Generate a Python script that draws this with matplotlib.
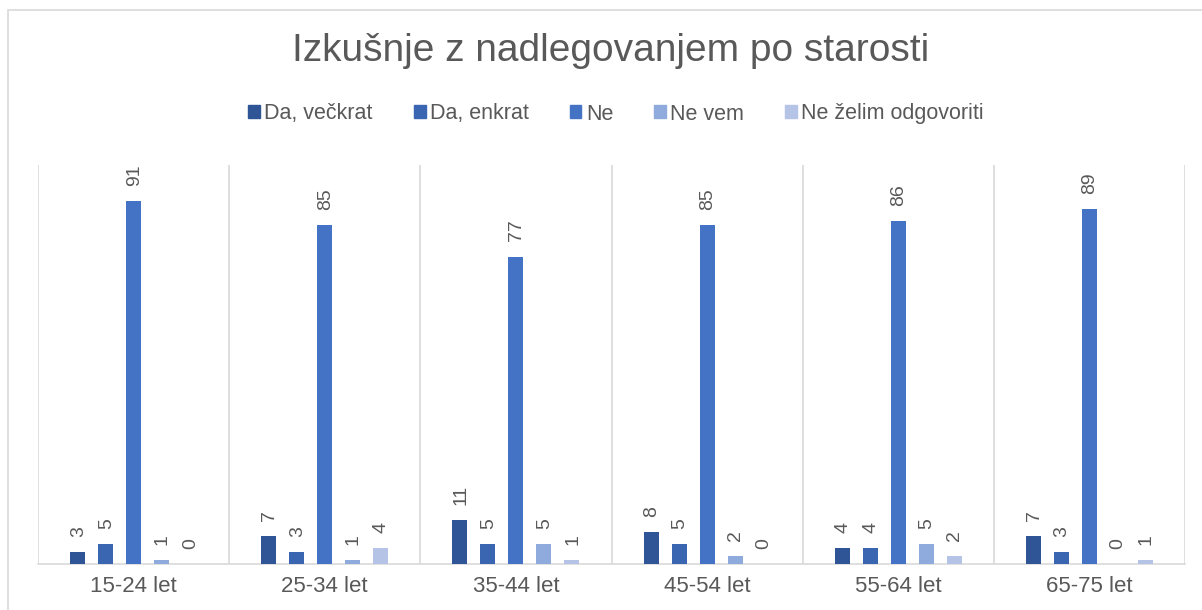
import matplotlib
matplotlib.use("Agg")
import matplotlib.pyplot as plt
from matplotlib.patches import Rectangle
import numpy as np

categories = ["15-24 let", "25-34 let", "35-44 let", "45-54 let", "55-64 let", "65-75 let"]
series_names = ["Da, večkrat", "Da, enkrat", "Ne", "Ne vem", "Ne želim odgovoriti"]
da_veckrat = [3, 7, 11, 8, 4, 7]
da_enkrat = [5, 3, 5, 5, 4, 3]
ne = [91, 85, 77, 85, 86, 89]
ne_vem = [1, 1, 5, 2, 5, 0]
ne_zelim = [0, 4, 1, 0, 2, 1]
title = "Izkušnje z nadlegovanjem po starosti"

series = [da_veckrat, da_enkrat, ne, ne_vem, ne_zelim]
colors = ["#2F5597", "#3A65B0", "#4472C4", "#8FAADC", "#B4C3E6"]

plt.rcParams['font.family'] = ['Liberation Sans', 'DejaVu Sans']

W, H = 1202, 610
fig = plt.figure(figsize=(W / 100, H / 100), dpi=100)
fig.patch.set_facecolor("white")

# chart border
fig.patches.append(Rectangle((8 / W, -0.05), 1.1, (H - 10) / H + 0.05,
                             transform=fig.transFigure, fill=False,
                             edgecolor="#D9D9D9", linewidth=1.2))

ax = fig.add_axes([38 / W, (H - 564) / H, (1185 - 38) / W, (564 - 165) / H])
ax.set_xlim(-0.5, len(categories) - 0.5)
ax.set_ylim(0, 100)

x = np.arange(len(categories))
cat_px = (1185 - 38) / len(categories)
pitch = 28 / cat_px
width = 15 / cat_px
for i, (vals, name, col) in enumerate(zip(series, series_names, colors)):
    pos = x + (i - 2) * pitch
    bars = ax.bar(pos, vals, width=width, color=col, label=name, zorder=3)
    for b, v in zip(bars, vals):
        ax.annotate(str(v), (b.get_x() + b.get_width() / 2, v),
                    xytext=(0.5, 11), textcoords="offset points",
                    rotation=90, ha="center", va="bottom",
                    fontsize=14, color="#595959")

for s in ["top", "right", "left"]:
    ax.spines[s].set_visible(False)
ax.spines["bottom"].set_color("#D9D9D9")
ax.spines["bottom"].set_linewidth(1.2)
for b in np.arange(-0.5, len(categories) + 0.5, 1):
    ax.axvline(b, color="#D9D9D9", linewidth=1.2, zorder=1)
ax.set_yticks([])
ax.set_xticks(x)
ax.set_xticklabels(categories, fontsize=16, color="#595959")
ax.tick_params(axis="x", length=0, pad=9)

fig.text(611 / W, 1 - 51 / H, title, ha="center", va="center",
         fontsize=28, color="#595959")

handles = [Rectangle((0, 0), 1, 1, color=c) for c in colors]
fig.legend(handles, series_names, loc="center", bbox_to_anchor=(616 / W, 1 - 114 / H),
           ncol=5, frameon=False, fontsize=15.5, handlelength=0.55, handleheight=0.55,
           handletextpad=0.2, columnspacing=1.9, labelcolor="#595959")

fig.savefig("out.png", dpi=100, facecolor="white")
